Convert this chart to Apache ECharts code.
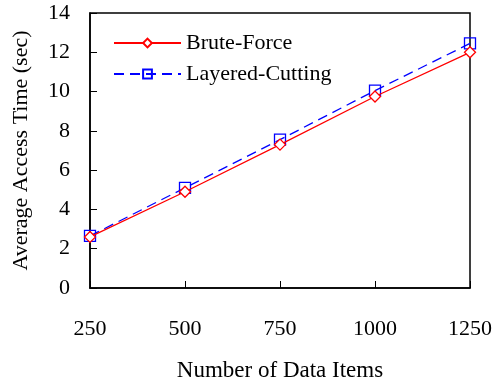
<!DOCTYPE html>
<html><head><meta charset="utf-8">
<script src="https://cdn.jsdelivr.net/npm/echarts@6/dist/echarts.min.js"></script>
<style>html,body{margin:0;padding:0;background:#fff}#c{width:497px;height:387px}</style>
</head><body><div id="c"></div>
<script>
const categories = ['250', '500', '750', '1000', '1250'];
const bruteForce = [2.6, 4.9, 7.3, 9.75, 12.0];
const layeredCutting = [2.65, 5.1, 7.55, 10.05, 12.45];
const yTicks = {min: 0, max: 14, interval: 2};
const F = 'Liberation Serif, Times New Roman, serif';
const chart = echarts.init(document.getElementById('c'));
chart.setOption({
  animation: false,
  backgroundColor: '#fff',
  grid: {left: 90, right: 27, top: 13, bottom: 95, show: true, borderColor: '#000', borderWidth: 1.5, backgroundColor: 'transparent'},
  legend: {
    left: 108, top: 27, orient: 'vertical', itemGap: 9, itemWidth: 67, itemHeight: 11,
    textStyle: {fontFamily: F, fontSize: 22, color: '#000'},
    data: ['Brute-Force', 'Layered-Cutting']
  },
  xAxis: {
    type: 'category', data: categories, boundaryGap: false,
    name: 'Number of Data Items', nameLocation: 'middle', nameGap: 71,
    nameTextStyle: {fontFamily: F, fontSize: 23, color: '#000'},
    axisLine: {lineStyle: {color: '#000', width: 1.5}},
    axisTick: {inside: true, length: 7, lineStyle: {color: '#000'}},
    axisLabel: {fontFamily: F, fontSize: 22, color: '#000', margin: 30},
    splitLine: {show: false}
  },
  yAxis: {
    type: 'value', min: yTicks.min, max: yTicks.max, interval: yTicks.interval,
    name: 'Average Access Time (sec)', nameLocation: 'middle', nameGap: 58,
    nameTextStyle: {fontFamily: F, fontSize: 22, color: '#000'},
    axisLine: {show: true, lineStyle: {color: '#000', width: 1.5}},
    axisTick: {show: true, inside: true, length: 7, lineStyle: {color: '#000'}},
    axisLabel: {fontFamily: F, fontSize: 22, color: '#000', margin: 20},
    splitLine: {show: false}
  },
  series: [
    {name: 'Brute-Force', type: 'line', data: bruteForce, symbol: 'diamond', symbolSize: 11,
     lineStyle: {color: '#ff0000', width: 1.3},
     itemStyle: {color: '#fff', borderColor: '#ff0000', borderWidth: 1.3}, z: 3},
    {name: 'Layered-Cutting', type: 'line', data: layeredCutting, symbol: 'rect', symbolSize: 11,
     lineStyle: {color: '#0000ff', width: 1.3, type: [10, 6]},
     itemStyle: {color: 'transparent', borderColor: '#0000ff', borderWidth: 1.3}, z: 2}
  ]
});
</script></body></html>
